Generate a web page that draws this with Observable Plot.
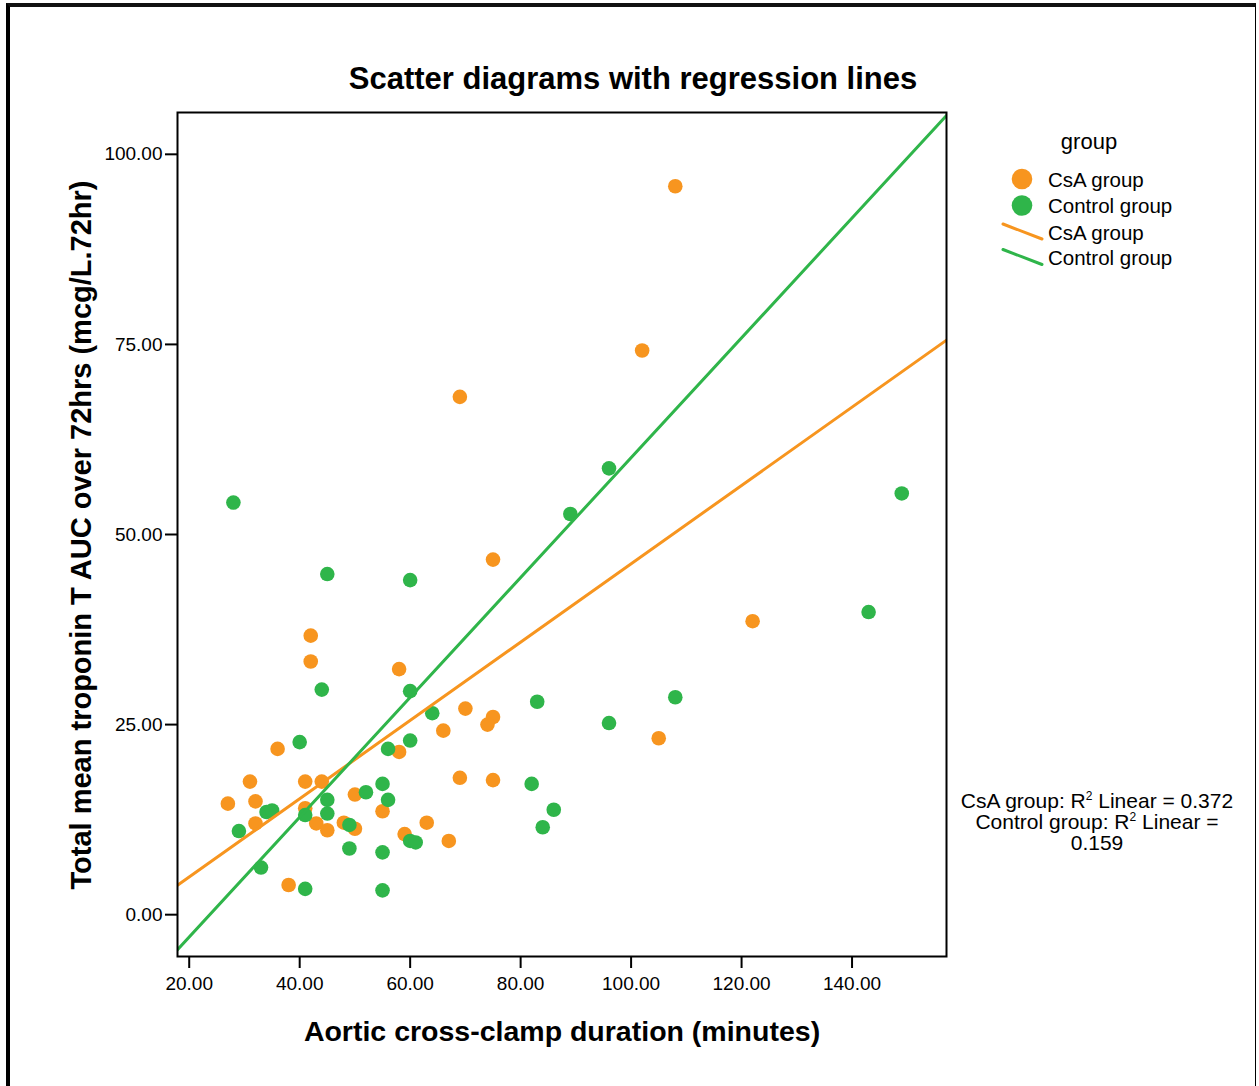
<!DOCTYPE html>
<html>
<head>
<meta charset="utf-8">
<script src="https://cdn.jsdelivr.net/npm/d3@7"></script>
<script src="https://cdn.jsdelivr.net/npm/@observablehq/plot@0.6"></script>
<style>
  html, body { margin: 0; padding: 0; background: #fff; }
  #wrap { position: relative; width: 1259px; height: 1086px; overflow: hidden; }
  #border { position: absolute; left: 6px; top: 3px; width: 1250px; height: 1090px;
            border-left: 4px solid #000; border-top: 4px solid #111; border-right: 1.5px solid #000; box-sizing: border-box; }
  svg { font-family: "Liberation Sans", Arial, sans-serif; }
</style>
</head>
<body>
<div id="wrap"><div id="border"></div></div>
<script>
// ---- data ----
const groups = ["CsA group", "Control group"];
const colors = ["#f7951f", "#2fb54a"];

const csaX = [42, 42, 36, 31, 27, 32, 32, 41, 44, 41, 43, 45, 38, 50, 48, 50, 55, 58, 58, 63, 59, 66, 69, 67, 70, 75, 74, 75, 105, 69, 75, 108, 102, 122];
const csaY = [36.7, 33.3, 21.8, 17.5, 14.6, 14.9, 12.0, 17.5, 17.5, 14.0, 12.0, 11.1, 3.9, 15.8, 12.1, 11.3, 13.6, 32.3, 21.4, 12.1, 10.6, 24.2, 18.0, 9.7, 27.1, 26.0, 25.0, 17.7, 23.2, 68.1, 46.7, 95.8, 74.2, 38.6];

const controlX = [44, 40, 56, 60, 60, 64, 55, 52, 56, 45, 45, 34, 35, 29, 41, 49, 49, 55, 60, 61, 33, 41, 55, 83, 96, 108, 82, 86, 84, 28, 45, 60, 96, 89, 149, 143];
const controlY = [29.6, 22.7, 21.8, 29.4, 22.9, 26.5, 17.2, 16.1, 15.1, 15.1, 13.3, 13.5, 13.7, 11.0, 13.1, 11.8, 8.7, 8.2, 9.7, 9.5, 6.2, 3.4, 3.2, 28.0, 25.2, 28.6, 17.2, 13.8, 11.5, 54.2, 44.8, 44.0, 58.7, 52.7, 55.4, 39.8];

// fitted regression lines as drawn (intercept, slope) and R² labels
const fitIntercept = [-5.35, -18.70];
const fitSlope = [0.515, 0.788];
const r2Values = ["0.372", "0.159"];

const xTicks = [20, 40, 60, 80, 100, 120, 140];
const yTicks = [0, 25, 50, 75, 100];
const xDomain = [17.88, 157.1];
const yDomain = [-5.5, 105.5];

const title = "Scatter diagrams with regression lines";
const xLabel = "Aortic cross-clamp duration (minutes)";
const yLabel = "Total mean troponin T AUC over 72hrs (mcg/L.72hr)";
const legendTitle = "group";

// ---- tables ----
const points = [
  ...csaX.map((x, i) => ({x, y: csaY[i], group: groups[0]})),
  ...controlX.map((x, i) => ({x, y: controlY[i], group: groups[1]}))
];
const fitLines = groups.flatMap((g, k) =>
  xDomain.map(x => ({x, y: fitIntercept[k] + fitSlope[k] * x, group: g})));

const W = 1259, H = 1086;
const mL = 177, mR = W - 946, mT = 112, mB = H - 956;

const chart = Plot.plot({
  width: W, height: H,
  marginLeft: mL, marginRight: mR, marginTop: mT, marginBottom: mB,
  style: {fontFamily: '"Liberation Sans", Arial, sans-serif', background: "transparent", overflow: "visible"},
  x: {domain: xDomain},
  y: {domain: yDomain},
  color: {domain: groups, range: colors},
  marks: [
    Plot.dot(points, {x: "x", y: "y", fill: "group", r: 7.3, stroke: "none"}),
    Plot.line(fitLines, {x: "x", y: "y", stroke: "group", strokeWidth: 3, clip: true}),
    Plot.frame({stroke: "#000", strokeWidth: 2}),
    Plot.axisX({ticks: xTicks, tickFormat: d3.format(".2f"), tickSize: 12, tickPadding: 8,
                fontSize: 19, label: null, stroke: "#000", strokeWidth: 2, fill: "#000"}),
    Plot.axisY({ticks: yTicks, tickFormat: d3.format(".2f"), tickSize: 12, tickPadding: 3,
                fontSize: 19, label: null, stroke: "#000", strokeWidth: 2, fill: "#000"})
  ]
});
chart.style.position = "absolute";
chart.style.left = "0px";
chart.style.top = "0px";
document.getElementById("wrap").appendChild(chart);

// ---- annotations ----
const svg = d3.select(chart);
const font = '"Liberation Sans", Arial, sans-serif';

svg.append("text").attr("x", 633).attr("y", 89).attr("text-anchor", "middle")
  .attr("font-family", font).attr("font-size", 31).attr("font-weight", "bold").attr("fill", "#000").text(title);

svg.append("text").attr("x", 562).attr("y", 1041).attr("text-anchor", "middle")
  .attr("font-family", font).attr("font-size", 28.5).attr("font-weight", "bold").attr("fill", "#000").text(xLabel);

svg.append("text").attr("transform", "translate(91,535) rotate(-90)").attr("text-anchor", "middle")
  .attr("font-family", font).attr("font-size", 29).attr("font-weight", "bold").attr("fill", "#000").text(yLabel);

// legend
const lg = svg.append("g").attr("font-family", font).attr("fill", "#000").attr("text-anchor", "start");
lg.append("text").attr("x", 1089).attr("y", 149).attr("text-anchor", "middle").attr("font-size", 22).text(legendTitle);
groups.forEach((g, k) => {
  const cy = 179 + k * 26.5;
  lg.append("circle").attr("cx", 1022).attr("cy", cy).attr("r", 10.3).attr("fill", colors[k]);
  lg.append("text").attr("x", 1048).attr("y", cy + 7.5).attr("text-anchor", "start").attr("font-size", 20.5).text(g);
});
groups.forEach((g, k) => {
  const cy = 232 + k * 25.5;
  lg.append("line").attr("x1", 1003).attr("y1", cy - 8).attr("x2", 1042).attr("y2", cy + 7)
    .attr("stroke", colors[k]).attr("stroke-width", 3).attr("stroke-linecap", "round");
  lg.append("text").attr("x", 1048).attr("y", cy + 7.5).attr("text-anchor", "start").attr("font-size", 20.5).text(g);
});

// R² annotation
const rg = svg.append("g").attr("font-family", font).attr("fill", "#000").attr("font-size", 21).attr("text-anchor", "middle");
const t1 = rg.append("text").attr("x", 1097).attr("y", 808);
t1.append("tspan").text(groups[0] + ": R");
t1.append("tspan").attr("font-size", 12).attr("dy", -8).text("2");
t1.append("tspan").attr("dy", 8).text(" Linear = " + r2Values[0]);
const t2 = rg.append("text").attr("x", 1097).attr("y", 829);
t2.append("tspan").text(groups[1] + ": R");
t2.append("tspan").attr("font-size", 12).attr("dy", -8).text("2");
t2.append("tspan").attr("dy", 8).text(" Linear =");
rg.append("text").attr("x", 1097).attr("y", 850).text(r2Values[1]);
</script>
</body>
</html>
